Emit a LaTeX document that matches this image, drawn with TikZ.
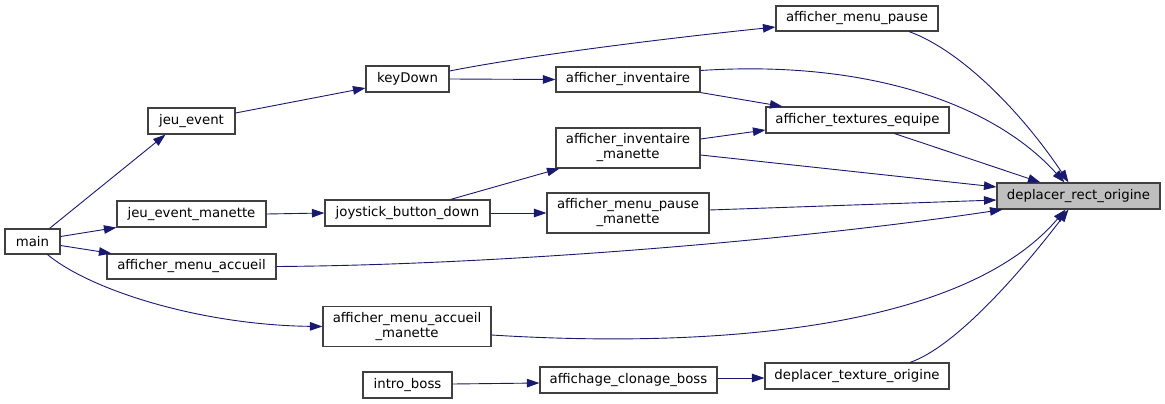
\documentclass[tikz,border=0pt]{standalone}
\usepackage{fontspec}
\setmainfont{DejaVu Sans}
\usetikzlibrary{arrows.meta,calc}
\definecolor{edgecol}{RGB}{25,25,112}
\definecolor{nodeline}{RGB}{64,64,64}
\definecolor{hilite}{RGB}{191,191,191}
\begin{document}
\begin{tikzpicture}[x=1pt,y=-1pt,
  box/.style={draw=nodeline, fill=white, line width=1.1pt, inner sep=0pt,
    font=\fontsize{13.3}{15}\selectfont, align=center},
  arr/.style={draw=edgecol, line width=0.9pt, -{Triangle[length=12.5pt,width=8.5pt]}, fill=none},
]
\useasboundingbox (0,0) rectangle (1165,404);
% nodes
\node[box, minimum width=55, minimum height=25] (main) at (32.5,241.5) {main};
\node[box, minimum width=87, minimum height=26] (jeuevent) at (191.5,121) {jeu\_event};
\node[box, minimum width=149, minimum height=26] (jeueventm) at (191.5,214) {jeu\_event\_manette};
\node[box, minimum width=169, minimum height=25] (accueil) at (191.5,266.5) {afficher\_menu\_accueil};
\node[box, minimum width=168, minimum height=40] (accueilm) at (407,326.5) {afficher\_menu\_accueil\\\_manette};
\node[box, minimum width=83, minimum height=26] (keydown) at (407.5,79) {keyDown};
\node[box, minimum width=165, minimum height=26] (joystick) at (407.5,213) {joystick\_button\_down};
\node[box, minimum width=89, minimum height=26] (intro) at (407.5,385) {intro\_boss};
\node[box, minimum width=144, minimum height=25] (inv) at (628,79.5) {afficher\_inventaire};
\node[box, minimum width=144, minimum height=40] (invm) at (628,148) {afficher\_inventaire\\\_manette};
\node[box, minimum width=162, minimum height=40] (pausem) at (628,213) {afficher\_menu\_pause\\\_manette};
\node[box, minimum width=177, minimum height=26] (clonage) at (628.5,380) {affichage\_clonage\_boss};
\node[box, minimum width=162, minimum height=25] (pause) at (857,18.5) {afficher\_menu\_pause};
\node[box, minimum width=183, minimum height=26] (textures) at (857.5,120) {afficher\_textures\_equipe};
\node[box, minimum width=163, minimum height=26, fill=hilite] (drect) at (1078.5,196) {deplacer\_rect\_origine};
\node[box, minimum width=184, minimum height=26] (dtex) at (857,376) {deplacer\_texture\_origine};
% edges
\draw[arr] ($(main.north)+(17,0)$) -- ($(jeuevent.south)+(-26,0)$);
\draw[arr] ($(main.east)+(0,-5)$) -- (jeueventm.south west);
\draw[arr] ($(main.east)+(0,4)$) -- ($(accueil.north west)+(5,0)$);
\draw[arr] ($(main.south)+(15,0)$) .. controls (90,290) and (200,325) .. (accueilm.west);
\draw[arr] ($(jeuevent.east)+(0,-8)$) -- ($(keydown.west)+(0,9)$);
\draw[arr] (jeueventm.east) -- (joystick.west);
\draw[arr] ($(keydown.east)+(0,-8)$) .. controls (520,57) and (650,40) .. ($(pause.west)+(0,8.5)$);
\draw[arr] (keydown.east) -- (inv.west);
\draw[arr] ($(joystick.north)+(43,0)$) -- ($(invm.south west)+(4,0)$);
\draw[arr] (joystick.east) -- (pausem.west);
\draw[arr] (inv.south east) -- ($(textures.north west)+(17,0)$);
\draw[arr] ($(invm.east)+(0,-9)$) -- ($(textures.west)+(0,10)$);
\draw[arr] ($(intro.east)+(0,-1)$) -- ($(clonage.west)+(0,3)$);
\draw[arr] ($(clonage.east)+(0,-2)$) -- ($(dtex.west)+(0,2)$);
\draw[arr] ($(pause.south)+(52,0)$) .. controls (960,50) and (1020,110) .. ($(drect.north)+(-10,0)$);
\draw[arr] ($(inv.east)+(0,-9)$) .. controls (860,60) and (990,100) .. ($(drect.north)+(-14,0)$);
\draw[arr] ($(textures.south)+(37,0)$) -- ($(drect.north)+(-38,0)$);
\draw[arr] ($(invm.east)+(0,7)$) -- ($(drect.west)+(0,-9)$);
\draw[arr] ($(pausem.east)+(0,-3)$) -- ($(drect.west)+(0,4)$);
\draw[arr] (accueil.east) .. controls (500,265) and (800,240) .. ($(drect.south west)+(6,0)$);
\draw[arr] ($(accueilm.east)+(0,8.5)$) .. controls (650,345) and (950,345) .. ($(drect.south)+(-13,0)$);
\draw[arr] ($(dtex.north)+(53,0)$) .. controls (960,345) and (1030,260) .. ($(drect.south)+(-10,0)$);
\end{tikzpicture}
\end{document}
